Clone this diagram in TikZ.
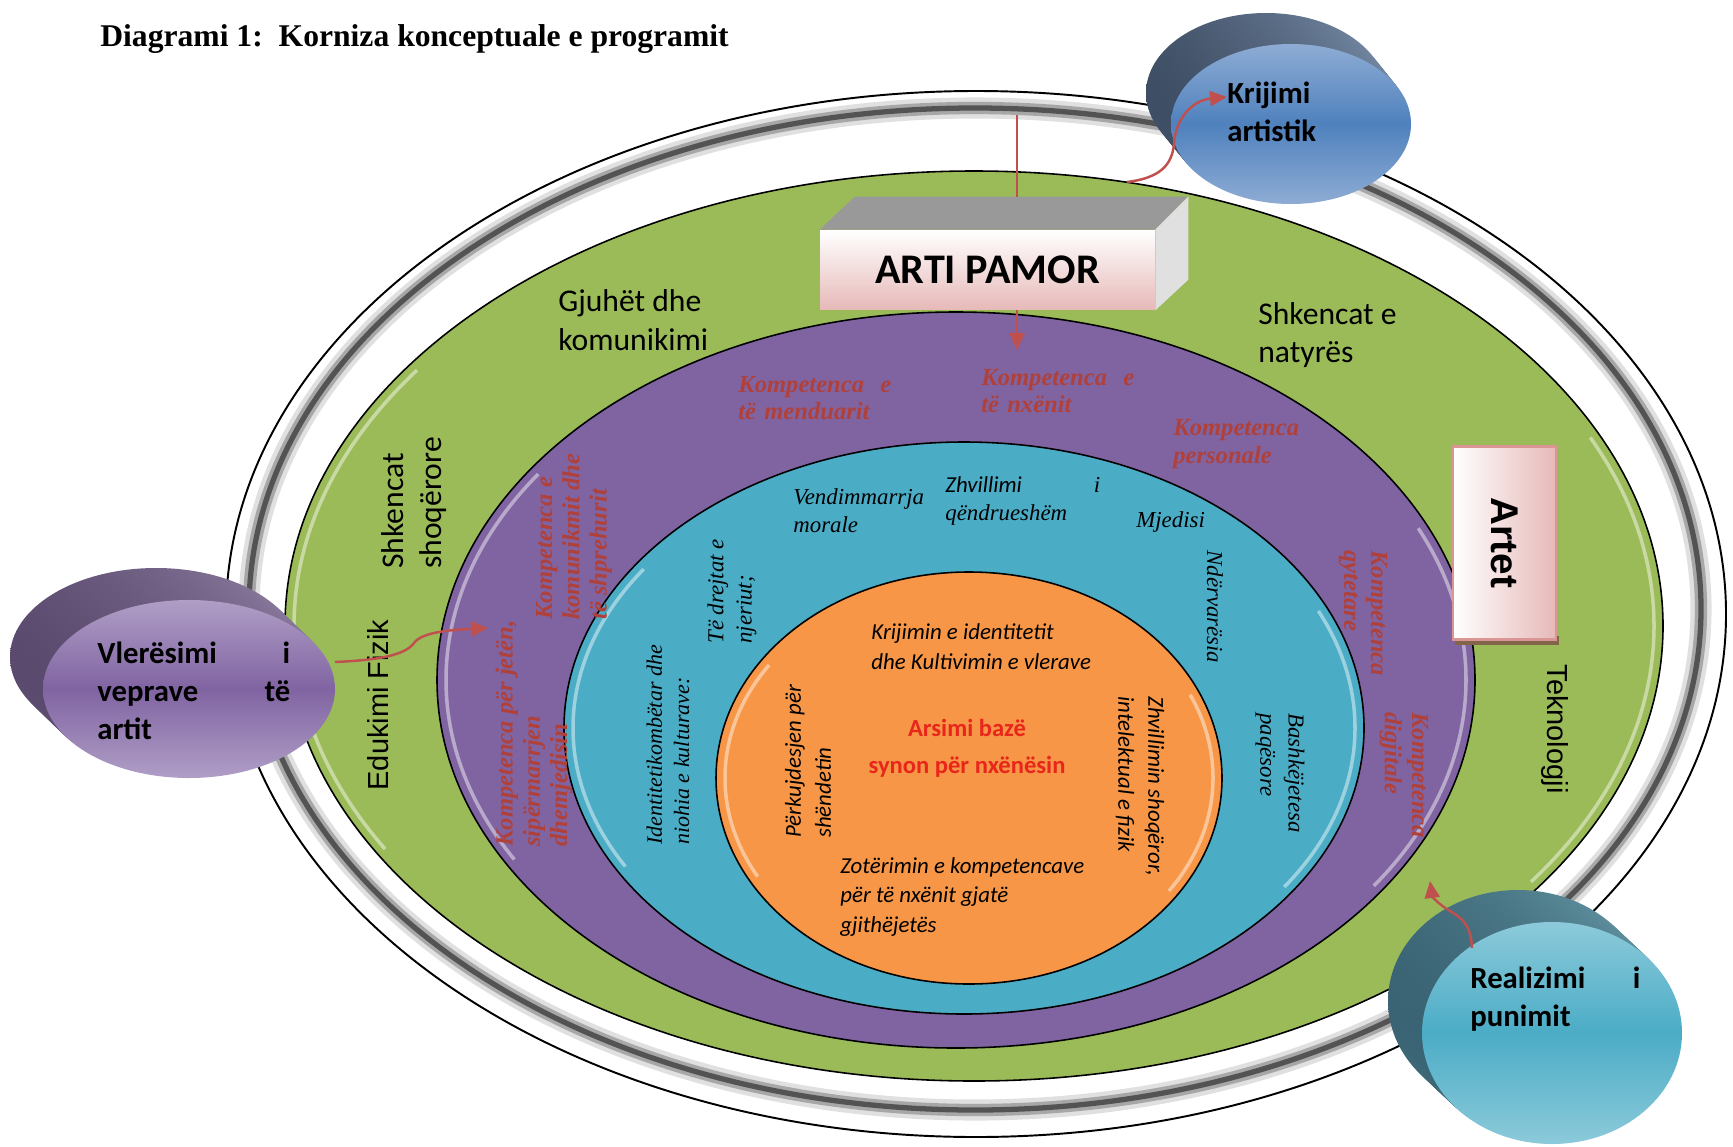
\documentclass[tikz,border=0pt]{standalone}
\usepackage{fontspec}
\setmainfont{Liberation Serif}
\setsansfont{Carlito}
\newfontfamily\arialfont{Liberation Sans}
\usetikzlibrary{arrows.meta}

\definecolor{ringgreen}{HTML}{9BBB59}
\definecolor{ringpurple}{HTML}{8064A2}
\definecolor{ringblue}{HTML}{4BACC6}
\definecolor{ringorange}{HTML}{F79646}
\definecolor{kompred}{RGB}{176,64,58}
\definecolor{arrowred}{HTML}{C0504D}
\definecolor{arsimired}{RGB}{232,38,28}
\definecolor{boxpink}{HTML}{E6B9B8}
\definecolor{boxedge}{HTML}{D99694}
\definecolor{artetshadow}{RGB}{130,100,75}
\definecolor{krijimiside}{RGB}{62,78,100}
\definecolor{krijimisidelight}{RGB}{118,138,165}
\definecolor{krijimilight}{RGB}{142,172,212}
\definecolor{krijimimid}{RGB}{79,129,189}
\definecolor{vleresimiside}{RGB}{90,74,110}
\definecolor{vleresimisidelight}{RGB}{140,124,160}
\definecolor{vleresimilight}{RGB}{176,158,198}
\definecolor{vleresimimid}{RGB}{128,100,162}
\definecolor{realizimiside}{RGB}{58,100,115}
\definecolor{realizimisidelight}{RGB}{100,150,165}
\definecolor{realizimilight}{RGB}{140,202,218}
\definecolor{realizimimid}{RGB}{75,172,198}

\tikzset{
	unaze/.style={draw=black, line width=0.9pt},
	drite/.style={white, opacity=.45, line width=2pt},
	titull/.style={font=\fontsize{18}{20}\selectfont\bfseries, anchor=west, inner sep=0pt},
	fusha/.style={font=\sffamily\fontsize{18}{22}\selectfont, align=left, inner sep=0pt, anchor=west},
	fushaarial/.style={font=\arialfont\fontsize{16.5}{20}\selectfont, inner sep=0pt},
	kompetenca/.style={text=kompred, font=\fontsize{14}{15.5}\selectfont\bfseries\itshape, align=left, inner sep=0pt, anchor=west},
	vlera/.style={font=\fontsize{13}{16}\selectfont\itshape, align=left, inner sep=0pt, anchor=west},
	synim/.style={font=\sffamily\itshape\fontsize{13}{17}\selectfont, align=left, inner sep=0pt, anchor=west},
	disktekst/.style={font=\sffamily\bfseries\fontsize{17.5}{21.5}\selectfont, align=left, inner sep=0pt, anchor=west},
	pamorkuti/.style={minimum width=6.7cm, minimum height=1.6cm, inner sep=0pt, top color=white, bottom color=boxpink, font=\sffamily\bfseries\fontsize{24}{26}\selectfont},
	artetkuti/.style={rotate=-90, minimum width=3.86cm, minimum height=2.06cm, inner sep=0pt, draw=boxedge, line width=1.2pt, left color=white, right color=boxpink, font=\arialfont\bfseries\fontsize{22}{24}\selectfont},
	vijekuqe/.style={draw=arrowred, line width=1.4pt},
	shigjete/.style={vijekuqe, -{Triangle[length=3.4mm, width=3mm]}}
}

\begin{document}
\begin{tikzpicture}[x=0.02cm, y=-0.02cm]
	\useasboundingbox (0,0) rectangle (1733,1146);
	\node[titull] (titulli) at (100,39) {Diagrami 1:\ \ Korniza konceptuale e programit};

	\draw[fill=white, line width=1.1pt] (976,614) ellipse [x radius=750, y radius=523];
	\draw[black, opacity=.12, line width=12pt] (975,609) ellipse [x radius=726, y radius=501];
	\draw[black, opacity=.25, line width=7pt] (975,609) ellipse [x radius=726, y radius=501];
	\draw[black, opacity=.5, line width=3pt] (975,609) ellipse [x radius=726, y radius=501];

	\foreach \col/\cx/\cy/\rx/\ry in {ringgreen/974/626/689/455, ringpurple/956/680/519/368, ringblue/964/728/400/286, ringorange/969/778/253/206} {
		\draw[unaze, fill=\col] (\cx,\cy) ellipse [x radius=\rx, y radius=\ry];
		\pgfmathsetmacro\hx{\rx-9}
		\pgfmathsetmacro\hy{\ry-9}
		\draw[drite] (\cx,\cy) ++(150:{\hx} and {\hy}) arc[start angle=150, end angle=215, x radius=\hx, y radius=\hy];
		\draw[drite] (\cx,\cy) ++(-25:{\hx} and {\hy}) arc[start angle=-25, end angle=35, x radius=\hx, y radius=\hy];
	}

	\node[fusha] (gjuhet) at (558,320) {Gjuhët dhe\\komunikimi};
	\node[fusha] (natyra) at (1258,335) {Shkencat e\\natyrës};
	\node[fusha, rotate=90] (shoqerore) at (414,569) {Shkencat\\shoqërore};
	\node[fushaarial, rotate=90] (edukimi) at (378,705) {Edukimi Fizik};
	\node[fushaarial, rotate=-90] (teknologji) at (1555,729) {Teknologji};

	\node[kompetenca, text width=3.06cm] (menduarit) at (738,398) {Kompetenca\hfill e\\të menduarit};
	\node[kompetenca, text width=3.06cm] (nxenit) at (981,391) {Kompetenca\hfill e\\të nxënit};
	\node[kompetenca] (personale) at (1173,444) {Kompetenca\\personale};
	\node[kompetenca, rotate=90] (komunikimi) at (574,620) {Kompetenca e\\komunikmit dhe\\të shprehurit};
	\node[kompetenca, rotate=90] (jeta) at (534,847) {Kompetenca për jetën,\\sipërmarrjen\\dhemjedisin};
	\node[kompetenca, rotate=-90] (qytetare) at (1363,550) {Kompetenca\\qytetare};
	\node[kompetenca, rotate=-90] (digjitale) at (1404,712) {Kompetenca\\digjitale};

	\node[vlera] (vendimmarrja) at (793,511) {Vendimmarrja\\morale};
	\node[vlera, text width=3.1cm] (qendrueshem) at (945,501) {{\sffamily Zhvillimi}\hfill i\\qëndrueshëm};
	\node[vlera] (mjedisi) at (1136,522) {Mjedisi};
	\node[vlera, rotate=90] (tedrejtat) at (732,644) {Të drejtat e\\njeriut;};
	\node[vlera, rotate=90, font=\fontsize{12.5}{15.5}\selectfont\itshape] (identiteti) at (668,845) {Identitetikombëtar dhe\\niohia e kulturave:};
	\node[vlera, rotate=-90] (ndervaresia) at (1215,550) {Ndërvarësia};
	\node[vlera, rotate=-90] (bashkejetesa) at (1280,713) {Bashkëjetesa\\paqësore};

	\node[synim] (krijimin) at (871,647) {Krijimin e identitetit\\dhe Kultivimin e vlerave};
	\node[font=\sffamily\bfseries\fontsize{14}{21}\selectfont, text=arsimired, align=center, inner sep=0pt] (arsimi) at (967,748) {Arsimi bazë\\synon për nxënësin};
	\node[synim, rotate=90] (perkujdesjen) at (808,838) {Përkujdesjen për\\shëndetin};
	\node[synim, rotate=-90] (zhvillimin) at (1140,696) {Zhvillimin shoqëror,\\intelektual e fizik};
	\node[synim] (zoterimin) at (840,897) {Zotërimin e kompetencave\\për të nxënit gjatë\\gjithëjetës};

	\node[pamorkuti] (artipamor) at (987.5,270) {ARTI PAMOR};
	\fill[black!40] (artipamor.north west) -- ++(35,-33) -- ++(333,0) -- (artipamor.north east) -- cycle;
	\fill[black!12] (artipamor.north east) -- ++(33,-33) -- ++(0,83) -- (artipamor.south east) -- cycle;
	\coordinate (pamorhyrje) at (1017,115);
	\coordinate (pamordalje) at (1017,350);
	\draw[vijekuqe] (pamorhyrje) -- ++(0,82);
	\draw[shigjete] (pamorhyrje |- artipamor.south) -- (pamordalje);

	\fill[artetshadow] (1455,636) rectangle (1559,645);
	\node[artetkuti] (artet) at (1504.5,543) {Artet};

	\foreach \cx/\cy/\rx/\ry/\dx/\dy/\ana/\anb/\fa/\fb in {
		1291/124/120/80/-25/-31/krijimiside/krijimisidelight/krijimilight/krijimimid,
		189/689/146/89/-33/-32/vleresimiside/vleresimisidelight/vleresimilight/vleresimimid,
		1552/1033/130/111/-34/-32/realizimiside/realizimisidelight/realizimilight/realizimimid} {
		\foreach \i in {12,11,...,1}
			\shade[left color=\ana, right color=\anb] ({\cx+\dx*\i/12},{\cy+\dy*\i/12}) ellipse [x radius=\rx, y radius=\ry];
		\shade[top color=\fa, bottom color=\fa, middle color=\fb] (\cx,\cy) ellipse [x radius=\rx, y radius=\ry];
	}

	\node[disktekst] (krijimi) at (1227,112) {Krijimi\\artistik};
	\node[disktekst, text width=3.86cm] (vleresimi) at (97,691) {Vlerësimi\hfill i\\veprave\hfill të\\artit};
	\node[disktekst, text width=3.4cm] (realizimi) at (1470,999) {Realizimi\hfill i\\punimit};

	\coordinate (krijimidalje) at (1127,182);
	\coordinate (krijimimaje) at (1227,97);
	\coordinate (vleresimidalje) at (335,662);
	\coordinate (vleresimimaje) at (488,628);
	\coordinate (realizimidalje) at (1472,948);
	\coordinate (realizimimaje) at (1430,881);
	\draw[shigjete] (krijimidalje) .. controls (1160,178) and (1172,165) .. (1174,144) .. controls (1176,115) and (1195,100) .. (krijimimaje);
	\draw[shigjete] (vleresimidalje) .. controls (380,660) and (405,655) .. (414,643) .. controls (422,632) and (450,630) .. (vleresimimaje);
	\draw[shigjete] (realizimidalje) .. controls (1471,925) and (1462,918) .. (1450,911) .. controls (1438,904) and (1432,896) .. (realizimimaje);
\end{tikzpicture}
\end{document}
